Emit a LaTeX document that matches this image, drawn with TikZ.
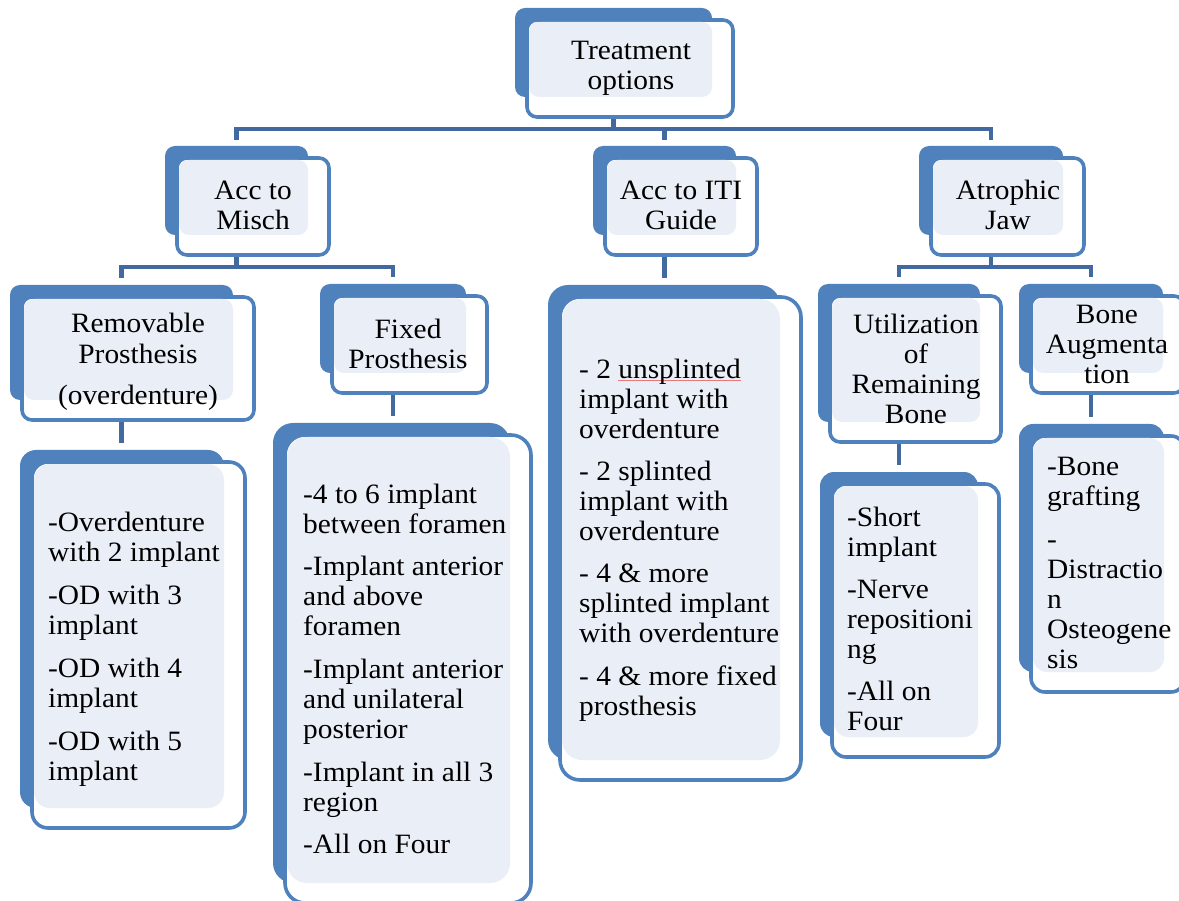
\documentclass[tikz,border=0pt]{standalone}
\usepackage{fontspec}
\setmainfont{Liberation Serif}[FakeStretch=1.05]
\usetikzlibrary{fit,backgrounds}
\definecolor{darkb}{RGB}{79,129,189}
\definecolor{lightb}{RGB}{234,239,247}
\definecolor{connb}{RGB}{66,106,160}
\definecolor{spellred}{RGB}{235,120,120}
\newcommand\redul[1]{\setbox0\hbox{#1}\rlap{\color{spellred}\raisebox{-3pt}{\rule{\wd0}{0.9pt}}}\box0}
\tikzset{
 darkbox/.style={fill=darkb, inner sep=0pt, outer sep=0pt},
 outbox/.style={draw=darkb, line width=3.6pt, fill=white, inner sep=0pt, outer sep=0pt},
 conn/.style={draw=connb, line width=4.5pt},
 lbl/.style={inner sep=0pt, font=\fontsize{28}{30}\selectfont, align=center, anchor=base},
 lst/.style={inner sep=0pt, font=\fontsize{28}{30}\selectfont, align=left, anchor=base west},
}
\newcommand\tbox[6][10]{%
 \node[darkbox, rounded corners=#1pt, fit={(#3,#4)(#5,#6)}] (#2d) {};
 \node[outbox, rounded corners=#1pt, fit={(#3+12,#4+12)(#5+21,#6+20)}] (#2) {};
 \fill[lightb, rounded corners=#1pt] (#3+14,#4+14) rectangle (#5,#6);
}
\begin{document}
\begin{tikzpicture}[x=1pt,y=-1pt]
\useasboundingbox (0,0) rectangle (1179,901);
% boxes
\tbox{treat}{515}{8}{712}{97}
\tbox{misch}{165}{146}{308}{235}
\tbox{iti}{593}{146}{736}{235}
\tbox{atro}{919}{146}{1063}{235}
\tbox{remov}{10}{285}{233}{400}
\tbox{fixed}{320}{284}{466}{373}
\tbox[20]{itil}{548}{285}{780}{760}
\tbox{util}{818}{284}{980}{422}
\tbox{bone}{1019}{284}{1163}{373}
\tbox[16]{reml}{20}{450}{224}{808}
\tbox[20]{fixl}{273}{423}{510}{883}
\tbox[14]{utill}{820}{472}{978}{737}
\tbox[14]{bonel}{1019}{424}{1164}{672}
% texts (anchor = baseline of the last line)
\node[lbl] (treat-t) at (631,90) {Treatment\\options};
\node[lbl] (misch-t) at (253,230) {Acc to\\Misch};
\node[lbl] (iti-t) at (681,230) {Acc to ITI\\Guide};
\node[lbl] (atro-t) at (1008,230) {Atrophic\\Jaw};
\node[lbl] (remov-t) at (138,405) {Removable\\[2pt]Prosthesis\\[11pt](overdenture)};
\node[lbl] (fixed-t) at (408,369) {Fixed\\Prosthesis};
\node[lbl] (util-t) at (916,424) {Utilization\\of\\Remaining\\Bone};
\node[lbl] (bone-t) at (1107,384) {Bone\\Augmenta\\tion};
\node[lst] (reml-t) at (48,780) {-Overdenture\\with 2 implant\\[13pt]-OD with 3\\implant\\[13pt]-OD with 4\\implant\\[13pt]-OD with 5\\implant};
\node[lst] (fixl-t) at (303,853) {-4 to 6 implant\\between foramen\\[12pt]-Implant anterior\\and above\\foramen\\[13pt]-Implant anterior\\and unilateral\\posterior\\[13pt]-Implant in all 3\\region\\[12pt]-All on Four};
\node[lst] (itil-t) at (579,715) {- 2 \redul{unsplinted}\\implant with\\overdenture\\[12pt]- 2 splinted\\implant with\\overdenture\\[12pt]- 4 \& more\\splinted implant\\with overdenture\\[13pt]- 4 \& more fixed\\prosthesis};
\node[lst] (utill-t) at (847,730) {-Short\\implant\\[12pt]-Nerve\\repositioni\\ng\\[12pt]-All on\\Four};
\node[lst] (bonel-t) at (1047,668) {-Bone\\grafting\\[13pt]-\\Distractio\\n\\Osteogene\\sis};
% connectors
\coordinate (bus1) at (0,129);
\coordinate (bus2) at (0,267);
\begin{pgfonlayer}{background}
\draw[conn] (treatd.center |- treat.south) -- (treatd.center |- bus1);
\draw[conn] ([yshift=6pt]mischd.north) -- (mischd.center |- bus1) -- (atrod.center |- bus1) -- ([yshift=6pt]atrod.north);
\draw[conn] (itid.center |- bus1) -- ([yshift=6pt]itid.north);
\draw[conn] (mischd.center |- misch.south) -- (mischd.center |- bus2);
\draw[conn] ([yshift=7pt]removd.north) -- (removd.center |- bus2) -- (fixedd.center |- bus2) -- ([yshift=7pt]fixedd.north);
\draw[conn] (atrod.center |- atro.south) -- (atrod.center |- bus2);
\draw[conn] ([yshift=7pt]utild.north) -- (utild.center |- bus2) -- (boned.center |- bus2) -- ([yshift=7pt]boned.north);
\draw[conn] (itid.center |- iti.south) -- ([yshift=7pt]itid.center |- itild.north);
\draw[conn] (removd.center |- remov.south) -- ([yshift=7pt]removd.center |- remld.north);
\draw[conn] (fixedd.center |- fixed.south) -- ([yshift=7pt]fixedd.center |- fixld.north);
\draw[conn] (utild.center |- util.south) -- ([yshift=7pt]utild.center |- utilld.north);
\draw[conn] (boned.center |- bone.south) -- ([yshift=7pt]boned.center |- boneld.north);
\end{pgfonlayer}
\end{tikzpicture}
\end{document}
